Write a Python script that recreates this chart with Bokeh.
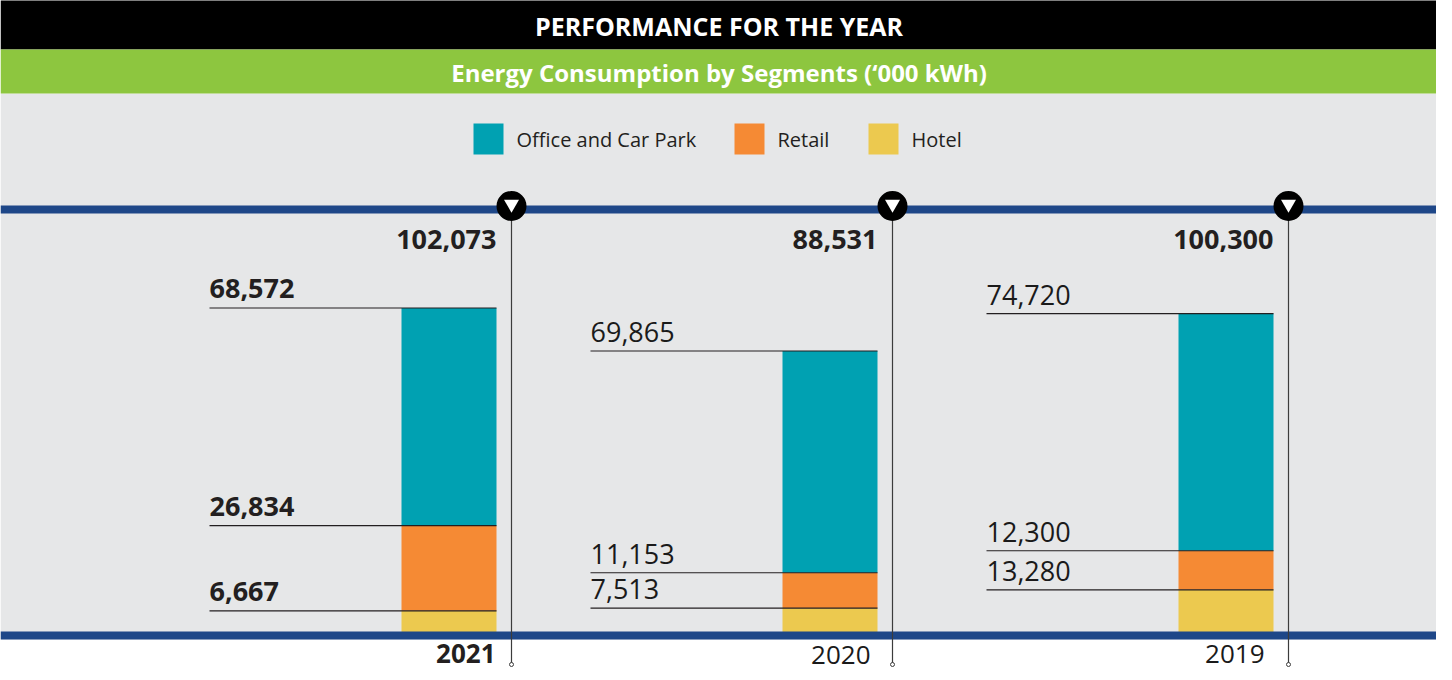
from bokeh.plotting import figure
from bokeh.models import Range1d, ColumnDataSource, Label
from bokeh.core.properties import value
from bokeh.embed import file_html
from bokeh.resources import INLINE

# ---------------- data ----------------
years = ["2021", "2020", "2019"]
office = [68572, 69865, 74720]
retail = [26834, 11153, 12300]
hotel = [6667, 7513, 13280]
totals = [102073, 88531, 100300]
segments = ["Office and Car Park", "Retail", "Hotel"]

title = "PERFORMANCE FOR THE YEAR"
subtitle = "Energy Consumption by Segments (\u2018000 kWh)"

# ---------------- styling / layout ----------------
TEAL = "#00A1B2"
ORANGE = "#F58A34"
YELLOW = "#ECC94F"
GREEN = "#8DC63F"
GREY = "#E6E7E8"
BLUE = "#1E4788"
DARK = "#231F20"
FONT = "Open Sans"

W, H = 1436, 672
BASE = 639.5          # screen y of value 0
U = 315.0             # data units per pixel


def Y(s):
    """screen y (pixels from top of window) -> data units"""
    return (BASE - s) * U


p = figure(width=W, height=H, x_range=Range1d(8, 8 + W), y_range=Range1d(Y(8 + H), Y(8)),
           output_backend="svg", toolbar_location=None, min_border=0)
p.axis.visible = False
p.grid.visible = False
p.outline_line_color = None
p.background_fill_color = "white"
p.border_fill_color = "white"

# bands
p.quad(left=8, right=1445, top=Y(101), bottom=Y(647), fill_color=GREY, line_color=None)
p.quad(left=8, right=1445, top=Y(7), bottom=Y(57), fill_color="black", line_color=None)
p.quad(left=8, right=1445, top=Y(57), bottom=Y(101), fill_color=GREEN, line_color=None)

p.add_layout(Label(x=726.5, y=Y(33), text=title, text_align="center", text_baseline="middle",
                   text_color="white", text_font=FONT, text_font_style="bold", text_font_size="25px"))
p.add_layout(Label(x=726.5, y=Y(80), text=subtitle, text_align="center", text_baseline="middle",
                   text_color="white", text_font=FONT, text_font_style="bold", text_font_size="24px"))

# legend
leg_sq_x = [481, 742, 876]
leg_cols = [TEAL, ORANGE, YELLOW]
for sx, col, name in zip(leg_sq_x, leg_cols, segments):
    p.quad(left=sx, right=sx + 30, top=Y(131), bottom=Y(162), fill_color=col, line_color=None)
    p.add_layout(Label(x=sx + 43, y=Y(147), text=name, text_align="left", text_baseline="middle",
                       text_color=DARK, text_font=FONT, text_font_size="20px"))

# blue rules
p.quad(left=8, right=1445, top=Y(213), bottom=Y(221), fill_color=BLUE, line_color=None)

# bars
centers = [456.5, 837.5, 1233.5]
BW = 95
src = ColumnDataSource(dict(x=centers, office=office, retail=retail, hotel=hotel))
p.vbar_stack(["hotel", "retail", "office"], x="x", width=BW, source=src,
             color=[YELLOW, ORANGE, TEAL], line_color=None)

p.quad(left=8, right=1445, top=Y(639), bottom=Y(647), fill_color=BLUE, line_color=None)

# leader lines & labels
lefts = [c - BW / 2 for c in centers]
rights = [c + BW / 2 for c in centers]
lab_x = [l - 192 for l in lefts]

seg_x0, seg_x1, seg_y, seg_txt, seg_bold = [], [], [], [], []
for i in range(len(years)):
    tops = [hotel[i] + retail[i] + office[i], hotel[i] + retail[i], hotel[i]]
    vals = [office[i], retail[i], hotel[i]]
    for t, v in zip(tops, vals):
        seg_x0.append(lab_x[i])
        seg_x1.append(rights[i])
        seg_y.append(t)
        seg_txt.append(f"{v:,}")
        seg_bold.append(i == 0)

p.segment(x0=seg_x0, x1=seg_x1, y0=seg_y, y1=seg_y, line_color=DARK, line_width=1.1)

for bold in (True, False):
    idx = [k for k, b in enumerate(seg_bold) if b == bold]
    s = ColumnDataSource(dict(x=[seg_x0[k] for k in idx], y=[seg_y[k] for k in idx],
                              t=[seg_txt[k] for k in idx]))
    p.text(x="x", y="y", text="t", source=s, text_align="left", text_baseline="middle",
           y_offset=-19, text_color=DARK if bold else "#1a1a1a", text_font=value(FONT),
           text_font_style="bold" if bold else "normal", text_font_size=value("27px"))

# vertical timeline lines with markers
vx = [r + 15 for r in rights]
p.segment(x0=vx, x1=vx, y0=[Y(214)] * 3, y1=[Y(672)] * 3, line_color="#3c3c3c", line_width=1.2)
p.scatter(x=vx, y=[Y(672)] * 3, size=4, marker="circle", fill_color="white",
          line_color="#3c3c3c", line_width=1)
p.scatter(x=vx, y=[Y(213.5)] * 3, size=30, marker="circle", fill_color="black", line_color=None)
p.scatter(x=vx, y=[Y(211.5)] * 3, size=15, marker="inverted_triangle", fill_color="white",
          line_color=None)

# totals
tsrc = ColumnDataSource(dict(x=rights, y=[Y(247)] * 3, t=[f"{v:,}" for v in totals]))
p.text(x="x", y="y", text="t", source=tsrc, text_align="right", text_baseline="middle",
       text_color=DARK, text_font=value(FONT), text_font_style="bold", text_font_size=value("27px"))

# year labels
yr_x = [rights[0] - 1, rights[1] - 7, rights[2] - 9]
p.text(x=[yr_x[0]], y=[Y(661)], text=[years[0]], text_align="right", text_baseline="middle",
       text_color=DARK, text_font=value(FONT), text_font_style="bold", text_font_size=value("26px"))
p.text(x=yr_x[1:], y=[Y(662), Y(661)], text=years[1:], text_align="right", text_baseline="middle",
       text_color="#1a1a1a", text_font=value(FONT), text_font_style="normal",
       text_font_size=value("26px"))

open("out.html", "w").write(file_html(p, INLINE))
